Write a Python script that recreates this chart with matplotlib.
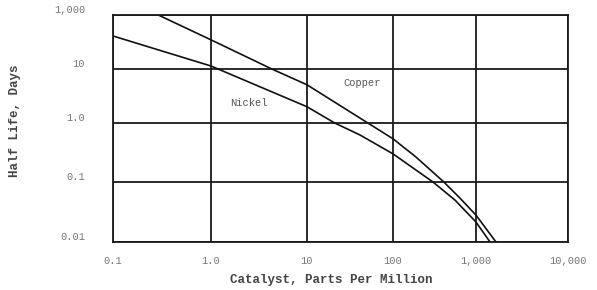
import numpy as np
import matplotlib.pyplot as plt

# ── Data ─────────────────────────────────────────────────────────────────────
copper_ppm  = [0.29, 1.0, 4.3, 10, 51, 100, 189, 410, 640, 1000, 1650]
copper_days = [1000, 120, 10, 5.1, 1.0, 0.54, 0.265, 0.1, 0.054, 0.028, 0.01]

nickel_ppm  = [0.1, 1.0, 10, 21, 41, 100, 303, 558, 1000, 1420]
nickel_days = [167, 12.9, 2.0, 1.0, 0.63, 0.30, 0.1, 0.05, 0.0215, 0.01]

x_ticks  = [0.1, 1, 10, 100, 1000, 10000]
x_labels = ['0.1', '1.0', '10', '100', '1,000', '10,000']
y_ticks  = [0.01, 0.1, 1, 10, 1000]
y_labels = ['0.01', '0.1', '1.0', '10', '1,000']

# ── Uneven log grid of the original drawing (decade -> pixel position) ──────
x_dec = [-1, 0, 1, 2, 3, 4]
x_pix = [113, 211, 307, 393, 476, 568]
y_dec = [-2, -1, 0, 1, 3]
y_pix = [-242, -182, -123, -69, -15]


def fwd_x(v):
    return np.interp(np.log10(np.clip(v, 1e-12, None)), x_dec, x_pix)


def inv_x(p):
    return 10 ** np.interp(p, x_pix, x_dec)


def fwd_y(v):
    return np.interp(np.log10(np.clip(v, 1e-12, None)), y_dec, y_pix)


def inv_y(p):
    return 10 ** np.interp(p, y_pix, y_dec)


W, H = 597, 290
fig = plt.figure(figsize=(W / 100, H / 100), dpi=100)
ax = fig.add_axes([113 / W, 1 - 242 / H, (568 - 113) / W, (242 - 15) / H])

ax.set_xscale('function', functions=(fwd_x, inv_x))
ax.set_yscale('function', functions=(fwd_y, inv_y))

ax.plot(copper_ppm, copper_days, color='#111111', lw=1.2)
ax.plot(nickel_ppm, nickel_days, color='#111111', lw=1.2)

ax.set_xlim(0.1, 10000)
ax.set_ylim(0.01, 1000)

tick_font = dict(family='Liberation Mono', size=7.5, color='#777777')
ax.set_xticks(x_ticks)
ax.set_xticklabels(x_labels, **tick_font)
ax.set_yticks(y_ticks)
ax.set_yticklabels(y_labels, **tick_font)
ax.tick_params(length=0)
ax.tick_params(axis='x', pad=10)
ax.tick_params(axis='y', pad=20)
for lab in ax.get_yticklabels():
    lab.set_verticalalignment('bottom')

ax.grid(True, color='#1a1a1a', lw=1.3)
for sp in ax.spines.values():
    sp.set_color('#1a1a1a')
    sp.set_linewidth(1.3)

ax.text(0.547, 0.70, 'Copper', transform=ax.transAxes, ha='center', va='center',
        family='Liberation Mono', size=7.5, color='#555555')
ax.text(0.299, 0.612, 'Nickel', transform=ax.transAxes, ha='center', va='center',
        family='Liberation Mono', size=7.5, color='#555555')

fig.text(331 / W, 1 - 280 / H, 'Catalyst, Parts Per Million', ha='center', va='center',
         family='Liberation Mono', size=9, weight='bold', color='#444444')
fig.text(15 / W, 1 - 121 / H, 'Half Life, Days', ha='center', va='center', rotation=90,
         family='Liberation Mono', size=9, weight='bold', color='#444444')

fig.savefig('out.png', dpi=100)
